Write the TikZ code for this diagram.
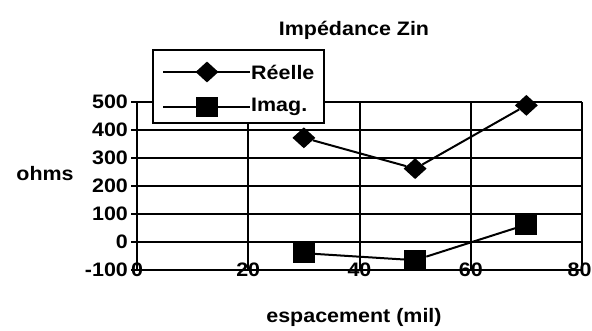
\documentclass[tikz,border=0pt]{standalone}
\usepackage{fontspec}
\setmainfont{Liberation Sans}[FakeStretch=1.1]
\usetikzlibrary{shapes.geometric}

\begin{document}
\begin{tikzpicture}[
      x=1pt, y=1pt,
      every node/.style={font=\fontsize{19.5}{22}\selectfont\bfseries},
      grille/.style={line width=2pt},
      cadre/.style={line width=2.4pt},
      courbe/.style={line width=2pt},
      losange/.style={diamond, fill=black, inner sep=0pt, minimum width=23pt, minimum height=21pt},
      carre/.style={rectangle, fill=black, inner sep=0pt, minimum width=22pt, minimum height=20pt}
    ]
    \useasboundingbox (0,0) rectangle (592,331);
    % Titres
    \node (titre) at (354,301) {Impédance Zin};
    \node (ohms) at (45,157) {ohms};
    \node (espacement) at (354,14) {espacement (mil)};
    \begin{scope}[shift={(137,89)}, x=5.5625pt, y=0.28pt]
      % Grille
      \foreach \v in {0,100,...,500} {
        \draw[grille] (0,\v) -- (80,\v);
      }
      \foreach \u in {20,40,60} {
        \draw[grille] (\u,-100) -- (\u,500);
      }
      \foreach \v in {-100,0,...,500} {
        \draw[grille] (-1,\v) -- (0,\v);
        \node[anchor=east] (y\v) at (-1,\v) {\v};
      }
      % Axes
      \draw[cadre] (0,500) -- (0,-100) -- (80,-100) -- (80,500);
      \foreach \u in {0,20,40,60} {
        \node (x\u) at (\u,-100) {\u};
      }
      \node[xshift=-2.5pt] (x80) at (80,-100) {80};
      % Réelle
      \node[losange] (r30) at (30,372) {};
      \node[losange] (r50) at (50,262) {};
      \node[losange] (r70) at (70,488) {};
      \draw[courbe] (r30) -- (r50) -- (r70);
      % Imag.
      \node[carre] (i30) at (30,-40) {};
      \node[carre] (i50) at (50,-65) {};
      \node[carre] (i70) at (70,62) {};
      \draw[courbe] (i30) -- (i50) -- (i70);
    \end{scope}
    % Légende
    \node[draw, fill=white, line width=2pt, minimum width=171pt, minimum height=73pt, inner sep=0pt] (legende) at (238.5,244.5) {};
    \coordinate (lra) at (163,259);
    \coordinate (lrb) at (250,259);
    \coordinate (lia) at (163,224);
    \coordinate (lib) at (250,224);
    \draw[courbe] (lra) -- (lrb);
    \draw[courbe] (lia) -- (lib);
    \node[losange] (lr) at (207,259) {};
    \node[carre] (li) at (207,224) {};
    \node[anchor=west, inner sep=1pt] (lrt) at (lrb) {Réelle};
    \node[anchor=west, inner sep=1pt] (lit) at (lib) {Imag.};
  \end{tikzpicture}
\end{document}
